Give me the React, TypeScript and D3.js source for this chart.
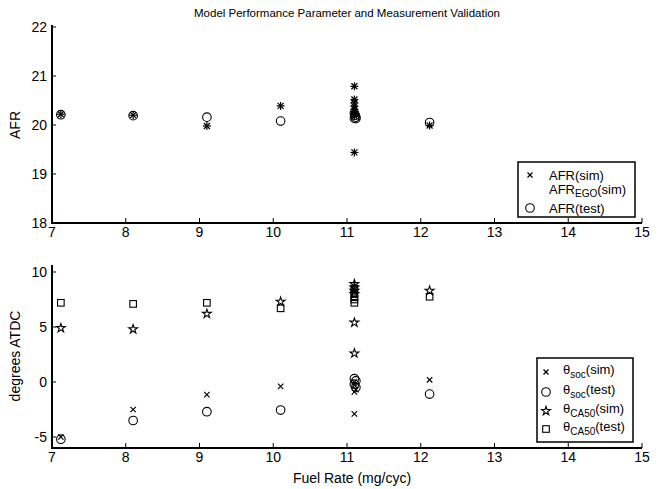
import React from "react";
import * as d3 from "d3";

const W = 663;
const H = 489;

const fuelTicks = [7, 8, 9, 10, 11, 12, 13, 14, 15];
const afrTicks = [18, 19, 20, 21, 22];
const degTicks = [-5, 0, 5, 10];

// AFR plot
const afrSimFuel = [7.12, 8.1, 9.1, 10.1, 11.1, 11.1, 11.1, 11.1, 11.1, 11.1, 11.1, 11.1, 11.1, 12.12];
const afrSimVal = [20.22, 20.2, 19.98, 20.39, 20.79, 20.52, 20.45, 20.38, 20.32, 20.27, 20.22, 20.18, 19.44, 19.99];
const afrEgoFuel = [7.12, 8.1, 9.1, 10.1, 11.1, 11.1, 11.1, 11.1, 11.1, 11.1, 11.1, 11.1, 11.1, 12.12];
const afrEgoVal = [20.22, 20.2, 19.98, 20.39, 20.79, 20.52, 20.45, 20.38, 20.32, 20.27, 20.22, 20.18, 19.44, 19.99];
const afrTestFuel = [7.12, 8.1, 9.1, 10.1, 11.1, 11.11, 11.12, 11.1, 11.12, 12.12];
const afrTestVal = [20.21, 20.19, 20.16, 20.08, 20.24, 20.2, 20.16, 20.14, 20.13, 20.05];

// Timing plot
const socSimFuel = [7.12, 8.1, 9.1, 10.1, 11.1, 11.1, 11.12, 11.1, 11.1, 12.12];
const socSimVal = [-5.0, -2.5, -1.15, -0.4, 0.0, -0.3, -0.7, -0.9, -2.9, 0.2];
const socTestFuel = [7.12, 8.1, 9.1, 10.1, 11.1, 11.12, 11.1, 11.12, 12.12];
const socTestVal = [-5.2, -3.5, -2.7, -2.55, 0.3, 0.1, -0.2, -0.5, -1.1];
const ca50SimFuel = [7.12, 8.1, 9.1, 10.1, 11.1, 11.1, 11.1, 11.1, 11.1, 11.1, 12.12];
const ca50SimVal = [4.9, 4.8, 6.2, 7.3, 8.9, 8.6, 8.3, 8.0, 5.4, 2.6, 8.3];
const ca50TestFuel = [7.12, 8.1, 9.1, 10.1, 11.1, 11.1, 11.1, 11.1, 11.1, 12.12];
const ca50TestVal = [7.2, 7.1, 7.2, 6.7, 8.5, 8.0, 7.7, 7.5, 7.2, 7.75];

const FONT = "'Liberation Sans', Arial, Helvetica, sans-serif";

const x = d3.scaleLinear().domain([7, 15]).range([52, 642]);
const yTop = d3.scaleLinear().domain([18, 22]).range([223, 27]);
const yBot = d3.scaleLinear().domain([-6, 10.6]).range([448, 265.4]);

const starPath = d3.symbol().type(d3.symbolStar).size(24)() as string;

function XMark({ cx, cy, s = 3 }: { cx: number; cy: number; s?: number }) {
  return (
    <g stroke="#000" strokeWidth={1.2}>
      <line x1={cx - s} y1={cy - s} x2={cx + s} y2={cy + s} />
      <line x1={cx - s} y1={cy + s} x2={cx + s} y2={cy - s} />
    </g>
  );
}
function PlusMark({ cx, cy, s = 4 }: { cx: number; cy: number; s?: number }) {
  return (
    <g stroke="#000" strokeWidth={1.2}>
      <line x1={cx - s} y1={cy} x2={cx + s} y2={cy} />
      <line x1={cx} y1={cy - s} x2={cx} y2={cy + s} />
    </g>
  );
}
function Circ({ cx, cy }: { cx: number; cy: number }) {
  return <circle cx={cx} cy={cy} r={4.3} fill="none" stroke="#000" strokeWidth={1.1} />;
}
function Star({ cx, cy }: { cx: number; cy: number }) {
  return <path d={starPath} transform={`translate(${cx},${cy})`} fill="none" stroke="#000" strokeWidth={1.1} />;
}
function Sq({ cx, cy }: { cx: number; cy: number }) {
  return <rect x={cx - 3.3} y={cy - 3.3} width={6.6} height={6.6} fill="none" stroke="#000" strokeWidth={1.1} />;
}

function Axes({ y, ticks, y0, yTopPx }: { y: d3.ScaleLinear<number, number>; ticks: number[]; y0: number; yTopPx: number }) {
  return (
    <g fontFamily={FONT} fontSize={14} fill="#000">
      <line x1={52} y1={yTopPx} x2={52} y2={y0} stroke="#000" strokeWidth={2} />
      <line x1={51} y1={y0} x2={642} y2={y0} stroke="#000" strokeWidth={2} />
      {ticks.map((t) => (
        <g key={"y" + t}>
          <line x1={52} x2={56} y1={y(t)} y2={y(t)} stroke="#000" strokeWidth={1} />
          <text x={47} y={y(t)} textAnchor="end" dominantBaseline="central">{t}</text>
        </g>
      ))}
      {fuelTicks.map((t) => (
        <g key={"x" + t}>
          <line x1={x(t)} x2={x(t)} y1={y0} y2={y0 - 5} stroke="#000" strokeWidth={1} />
          <text x={x(t)} y={y0 + 9} textAnchor="middle" dominantBaseline="central">{t}</text>
        </g>
      ))}
    </g>
  );
}

export default function App() {
  return (
    <svg width={W} height={H} style={{ position: "absolute", left: 0, top: 0, background: "#fff" }}>
      <rect width={W} height={H} fill="#fff" />
      <text x={347} y={13} textAnchor="middle" dominantBaseline="central" fontFamily={FONT} fontSize={11.5}>
        Model Performance Parameter and Measurement Validation
      </text>

      {/* Top plot */}
      <Axes y={yTop} ticks={afrTicks} y0={223} yTopPx={25} />
      <text transform="translate(15,125) rotate(-90)" textAnchor="middle" dominantBaseline="central" fontFamily={FONT} fontSize={14}>AFR</text>
      {afrTestFuel.map((f, i) => <Circ key={"at" + i} cx={x(f)} cy={yTop(afrTestVal[i])} />)}
      {afrSimFuel.map((f, i) => <XMark key={"as" + i} cx={x(f)} cy={yTop(afrSimVal[i])} />)}
      {afrEgoFuel.map((f, i) => <PlusMark key={"ae" + i} cx={x(f)} cy={yTop(afrEgoVal[i])} />)}

      {/* Top legend */}
      <g fontFamily={FONT} fontSize={13}>
        <rect x={518} y={162} width={117} height={55} fill="#fff" stroke="#000" strokeWidth={1.5} />
        <XMark cx={530} cy={175} s={2.5} />
        <text x={549} y={175} dominantBaseline="central">AFR(sim)</text>
        <text x={549} y={189} dominantBaseline="central">AFR<tspan fontSize={10} dy={4}>EGO</tspan><tspan dy={-4}>(sim)</tspan></text>
        <Circ cx={530} cy={208} />
        <text x={549} y={208} dominantBaseline="central">AFR(test)</text>
      </g>

      {/* Bottom plot */}
      <Axes y={yBot} ticks={degTicks} y0={448} yTopPx={265} />
      <text transform="translate(15,356) rotate(-90)" textAnchor="middle" dominantBaseline="central" fontFamily={FONT} fontSize={14}>degrees ATDC</text>
      <text x={352} y={478} textAnchor="middle" dominantBaseline="central" fontFamily={FONT} fontSize={14}>Fuel Rate (mg/cyc)</text>
      {ca50TestFuel.map((f, i) => <Sq key={"ct" + i} cx={x(f)} cy={yBot(ca50TestVal[i])} />)}
      {ca50SimFuel.map((f, i) => <Star key={"cs" + i} cx={x(f)} cy={yBot(ca50SimVal[i])} />)}
      {socTestFuel.map((f, i) => <Circ key={"st" + i} cx={x(f)} cy={yBot(socTestVal[i])} />)}
      {socSimFuel.map((f, i) => <XMark key={"ss" + i} cx={x(f)} cy={yBot(socSimVal[i])} s={2.7} />)}

      {/* Bottom legend */}
      <g fontFamily={FONT} fontSize={13}>
        <rect x={537} y={358} width={96} height={84} fill="#fff" stroke="#000" strokeWidth={1.5} />
        <XMark cx={546} cy={372} s={2.5} />
        <text x={563} y={369} dominantBaseline="central">θ<tspan fontSize={10} dy={5}>soc</tspan><tspan dy={-5}>(sim)</tspan></text>
        <Circ cx={546} cy={392} />
        <text x={563} y={389} dominantBaseline="central">θ<tspan fontSize={10} dy={5}>soc</tspan><tspan dy={-5}>(test)</tspan></text>
        <Star cx={546} cy={411} />
        <text x={563} y={408} dominantBaseline="central">θ<tspan fontSize={10} dy={5}>CA50</tspan><tspan dy={-5}>(sim)</tspan></text>
        <Sq cx={546} cy={429} />
        <text x={563} y={426} dominantBaseline="central">θ<tspan fontSize={10} dy={5}>CA50</tspan><tspan dy={-5}>(test)</tspan></text>
      </g>
    </svg>
  );
}
